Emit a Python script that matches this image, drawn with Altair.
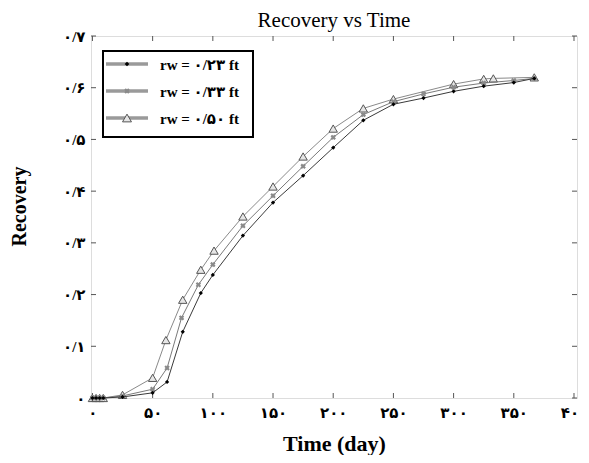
import altair as alt
import pandas as pd

# ---- data ----
days_023 = [0, 3, 6, 9, 25, 50, 62, 75, 90, 100, 125, 150, 175, 200, 225, 250, 275, 300, 325, 350, 367]
rec_023 = [0, 0, 0, 0, 0.002, 0.010, 0.031, 0.128, 0.203, 0.238, 0.314, 0.378, 0.430, 0.484, 0.537, 0.568, 0.580, 0.593, 0.603, 0.610, 0.618]

days_033 = [0, 3, 6, 9, 25, 50, 62, 74, 88, 100, 125, 150, 175, 200, 225, 250, 275, 300, 325, 350, 367]
rec_033 = [0, 0, 0, 0, 0.004, 0.017, 0.058, 0.155, 0.219, 0.258, 0.333, 0.391, 0.448, 0.504, 0.548, 0.573, 0.588, 0.601, 0.609, 0.614, 0.618]

days_050 = [0, 3, 6, 9, 25, 50, 61, 75, 90, 101, 125, 150, 175, 200, 225, 250, 300, 325, 333, 367]
rec_050 = [0, 0, 0, 0, 0.006, 0.039, 0.112, 0.190, 0.248, 0.285, 0.351, 0.409, 0.467, 0.521, 0.560, 0.578, 0.607, 0.617, 0.618, 0.620]

series_labels = ["rw = ۰/۲۳ ft", "rw = ۰/۳۳ ft", "rw = ۰/۵۰ ft"]
x_ticks = [0, 50, 100, 150, 200, 250, 300, 350, 400]
x_tick_labels = ["۰", "۵۰", "۱۰۰", "۱۵۰", "۲۰۰", "۲۵۰", "۳۰۰", "۳۵۰", "۴۰۰"]
y_ticks = [0, 0.1, 0.2, 0.3, 0.4, 0.5, 0.6, 0.7]
y_tick_labels = ["۰", "۰/۱", "۰/۲", "۰/۳", "۰/۴", "۰/۵", "۰/۶", "۰/۷"]
chart_title = "Recovery vs Time"

FONT = "Liberation Serif, DejaVu Sans"
W, H = 486, 362

df023 = pd.DataFrame({"day": days_023, "rec": rec_023})
df033 = pd.DataFrame({"day": days_033, "rec": rec_033})
df050 = pd.DataFrame({"day": days_050, "rec": rec_050})

xlab_expr = "[" + ",".join("'%s'" % s for s in x_tick_labels) + "][round(datum.value/50)]"
ylab_expr = "[" + ",".join("'%s'" % s for s in y_tick_labels) + "][round(datum.value*10)]"

xscale = alt.Scale(domain=[-1.2, 402.5], nice=False, zero=False)
yscale = alt.Scale(domain=[0, 0.7], nice=False)

X = alt.X("day:Q", scale=xscale,
          axis=alt.Axis(values=x_ticks, labelExpr=xlab_expr, ticks=False, domain=False, grid=False,
                        labelFont=FONT, labelFontWeight="bold", labelFontSize=15, labelColor="black",
                        labelPadding=7, title="Time (day)", titleFont=FONT, titleFontWeight="bold",
                        titleFontSize=22, titleColor="black", titlePadding=13, labelFlush=False))
Y = alt.Y("rec:Q", scale=yscale,
          axis=alt.Axis(values=y_ticks, labelExpr=ylab_expr, ticks=False, domain=False, grid=False,
                        labelFont=FONT, labelFontWeight="bold", labelFontSize=15, labelColor="black",
                        labelPadding=6, title="Recovery", titleFont=FONT, titleFontWeight="bold",
                        titleFontSize=20, titleColor="black", titlePadding=33, titleY=170,
                        labelFlush=False))

s1 = alt.Chart(df023).mark_line(color="#3a3a3a", strokeWidth=1).encode(x=X, y=Y) + \
     alt.Chart(df023).mark_point(shape="diamond", size=18, filled=True, color="black", opacity=1).encode(x=X, y=Y)
s2 = alt.Chart(df033).mark_line(color="#7a7a7a", strokeWidth=1).encode(x=X, y=Y) + \
     alt.Chart(df033).mark_point(shape="cross", angle=45, size=30, filled=True, color="#8a8a8a", opacity=1).encode(x=X, y=Y)
s3 = alt.Chart(df050).mark_line(color="#8a8a8a", strokeWidth=1).encode(x=X, y=Y) + \
     alt.Chart(df050).mark_point(shape="triangle-up", size=70, filled=True, fill="#e6e6e6", stroke="#555555",
                                 strokeWidth=1, opacity=1).encode(x=X, y=Y)

# inward ticks on all four sides
xt = pd.DataFrame({"day": x_ticks})
yt = pd.DataFrame({"rec": y_ticks})
tick_color = "#555555"
ticks = (
    alt.Chart(xt).mark_rule(color=tick_color, strokeWidth=1).encode(x=X, y=alt.value(H), y2=alt.value(H - 5))
    + alt.Chart(xt).mark_rule(color=tick_color, strokeWidth=1).encode(x=X, y=alt.value(0), y2=alt.value(5))
    + alt.Chart(yt).mark_rule(color=tick_color, strokeWidth=1).encode(y=Y, x=alt.value(0), x2=alt.value(5))
    + alt.Chart(yt).mark_rule(color=tick_color, strokeWidth=1).encode(y=Y, x=alt.value(W), x2=alt.value(W - 5))
)

one = alt.Data(values=[{"t": chart_title}])
title_mark = alt.Chart(one).mark_text(font=FONT, fontSize=21, color="black", align="center",
                                      baseline="alphabetic").encode(
    x=alt.value(W / 2), y=alt.value(-9), text="t:N")

# legend box
box = alt.Chart(one).mark_rect(fill="white", stroke="black", strokeWidth=2).encode(
    x=alt.value(12), x2=alt.value(162), y=alt.value(15), y2=alt.value(101))
legend_layers = [box]
row_y = [28, 55, 82]
marker_specs = [
    dict(shape="diamond", size=22, filled=True, color="black"),
    dict(shape="cross", angle=45, size=30, filled=True, color="#8a8a8a"),
    dict(shape="triangle-up", size=80, filled=True, fill="#e6e6e6", stroke="#555555", strokeWidth=1),
]
for lab, yy, ms in zip(series_labels, row_y, marker_specs):
    d = alt.Data(values=[{"label": lab}])
    legend_layers.append(alt.Chart(d).mark_rule(color="#9a9a9a", strokeWidth=3.5).encode(
        x=alt.value(15), x2=alt.value(57), y=alt.value(yy)))
    legend_layers.append(alt.Chart(d).mark_point(opacity=1, **ms).encode(x=alt.value(36), y=alt.value(yy)))
    legend_layers.append(alt.Chart(d).mark_text(align="left", baseline="middle", font=FONT, fontWeight="bold",
                                                fontSize=15, color="black").encode(
        x=alt.value(69), y=alt.value(yy + 1), text="label:N"))

chart = alt.layer(ticks, s3, s2, s1, title_mark, *legend_layers).properties(
    width=W, height=H,
    autosize=alt.AutoSizeParams(type="none"),
    padding={"left": 83, "top": 28, "right": 4, "bottom": 57},
).configure_view(stroke="#555555", strokeWidth=1.5).configure(background="white")

chart.save("out.html", embed_options={"renderer": "svg", "actions": False})
